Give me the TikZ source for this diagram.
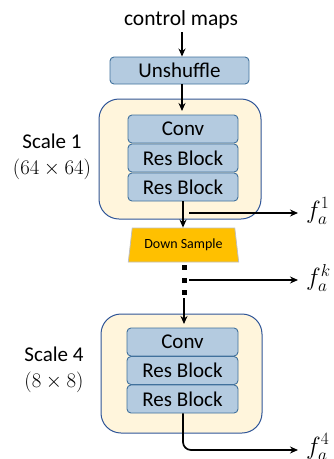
\documentclass[tikz,border=0pt]{standalone}
\usepackage{fontspec}
\setmainfont{Carlito}
\usetikzlibrary{shapes.geometric,arrows.meta}
\definecolor{blockfill}{HTML}{B4CBE0}
\definecolor{blockedge}{HTML}{41719C}
\definecolor{scalefill}{HTML}{FFF5DC}
\definecolor{scaleedge}{HTML}{2F5597}
\definecolor{downfill}{HTML}{FFC000}
\definecolor{downedge}{HTML}{BFBFBF}
\tikzset{
  block/.style={draw=blockedge, fill=blockfill, line width=0.9pt, rounded corners=4pt,
    inner sep=0pt, font=\fontsize{21}{24}\selectfont},
  scalebox/.style={draw=scaleedge, fill=scalefill, line width=1pt, rounded corners=20pt},
  flow/.style={line width=1.7pt, -{Stealth[length=8pt,width=7pt]}},
  outlbl/.style={font=\fontsize{23}{26}\selectfont, inner sep=0pt},
  scalelbl/.style={align=center, font=\fontsize{21}{26}\selectfont, inner sep=0pt},
}
\begin{document}
\begin{tikzpicture}[x=1pt, y=-1pt]
\useasboundingbox (0,0) rectangle (334,459);

% input and unshuffle
\node[font=\fontsize{21.5}{24}\selectfont, inner sep=0pt] (cm) at (181,20) {control maps};
\node[block, minimum width=139pt, minimum height=27pt] (unsh) at (179.5,70.5) {Unshuffle};
\draw[flow] (182,32) -- (unsh.north -| 182,0);

% scale 1
\draw[scalebox] (99,99) rectangle (261,219);
\node[block, minimum width=110pt, minimum height=28pt] (conv1) at (183,129) {Conv};
\node[block, minimum width=110pt, minimum height=28pt] (resa1) at (183,158) {Res Block};
\node[block, minimum width=110pt, minimum height=28pt] (resb1) at (183,187) {Res Block};
\node[scalelbl] (s1) at (52,157) {Scale 1\\$(64\times64)$};
\draw[flow] (unsh.south -| 182,0) -- (182,111);

% down sample
\node[trapezium, trapezium angle=76, trapezium stretches=true, minimum width=111pt,
  minimum height=34pt, draw=downedge, fill=downfill, line width=0.8pt, inner sep=0pt,
  font=\fontsize{14}{16}\selectfont] (down) at (183.5,245) {Down Sample};
\draw[flow] (resb1.south) -- (down.north -| resb1.south);
\coordinate (b1) at (189,213);
\node[outlbl, anchor=west] (f1) at (306,211) {$f_a^1$};
\draw[flow] (b1) -- ([xshift=-8pt]f1.west |- b1);

% elided scales
\foreach \yy in {267,280,292} \fill (181.5,\yy-2.5) rectangle ++(5,5);
\coordinate (bk) at (189,280);
\node[outlbl, anchor=west] (fk) at (306,278) {$f_a^k$};
\draw[flow] (bk) -- ([xshift=-8pt]fk.west |- bk);

% scale 4
\draw[scalebox] (101,314) rectangle (262,433);
\node[block, minimum width=111pt, minimum height=28pt] (conv4) at (182.5,342) {Conv};
\node[block, minimum width=111pt, minimum height=28pt] (resa4) at (182.5,370.5) {Res Block};
\node[block, minimum width=111pt, minimum height=28pt] (resb4) at (182.5,399) {Res Block};
\node[scalelbl] (s4) at (54,370) {Scale 4\\$(8\times8)$};
\coordinate (top4) at (184,298);
\draw[flow] (top4) -- (184,324);

\node[outlbl, anchor=west] (f4) at (306,447) {$f_a^4$};
\draw[flow, rounded corners=8pt] (resb4.south -| 183,0) -- (183,450) -- ([xshift=-8pt]f4.west |- 0,450);
\end{tikzpicture}
\end{document}
